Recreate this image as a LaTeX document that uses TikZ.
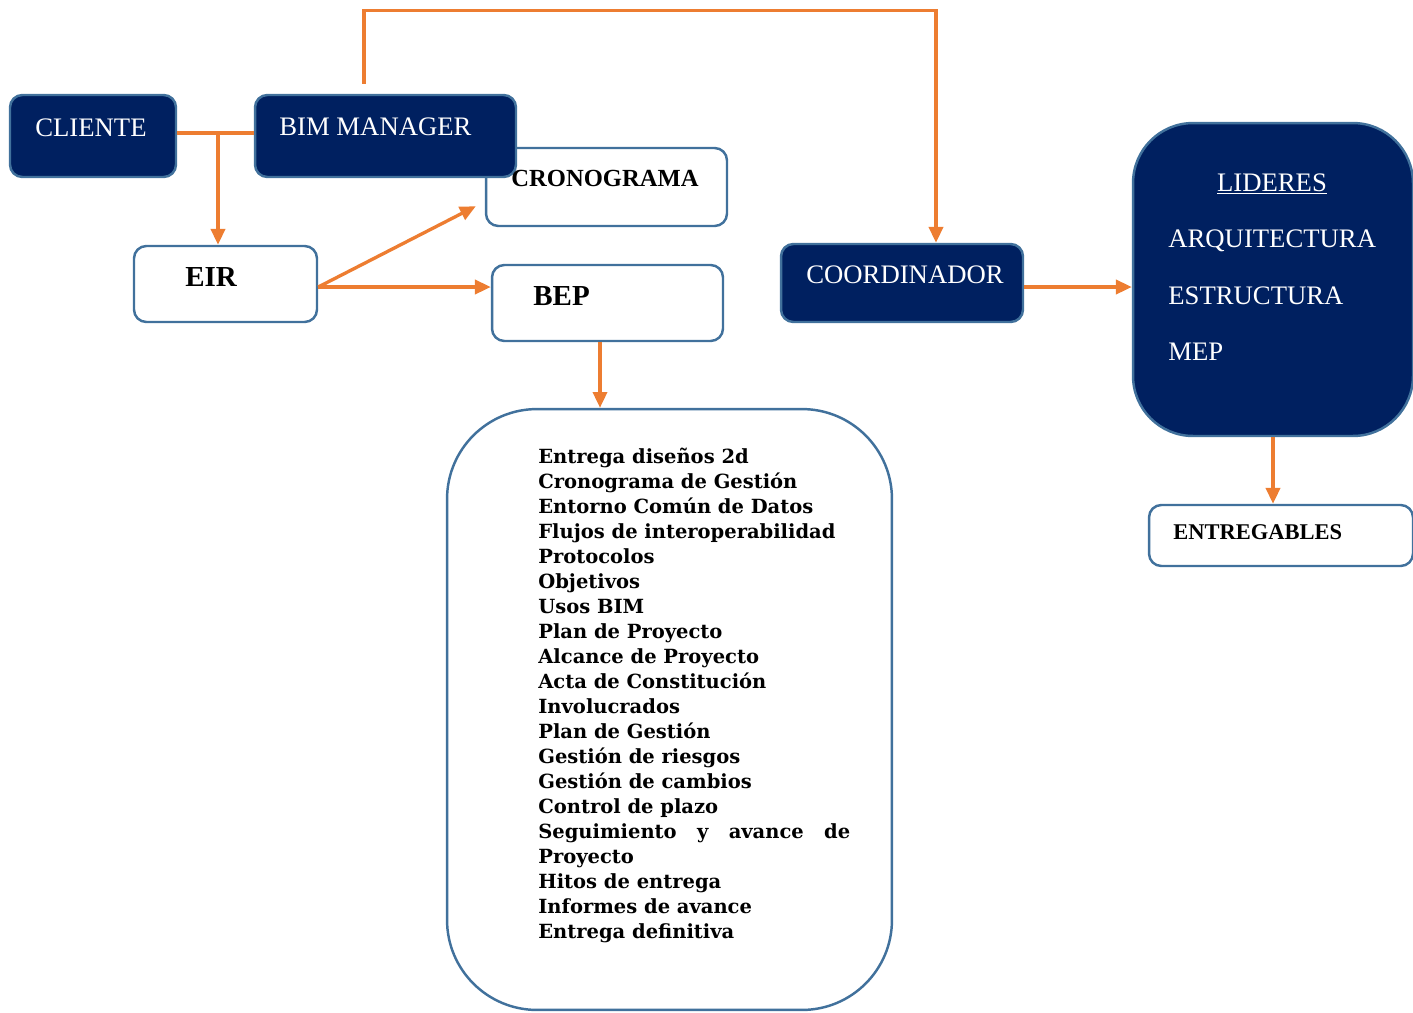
\documentclass[tikz,border=0pt]{standalone}
\usepackage{fontspec}
\setmainfont{Liberation Serif}
\newfontfamily\listfont{DejaVu Serif}
\usepackage{xcolor}
\usepackage{tikz}
\usetikzlibrary{arrows.meta,calc}
\definecolor{navy}{HTML}{002060}
\definecolor{edge}{HTML}{41719C}
\definecolor{orange}{HTML}{ED7D31}
\tikzset{
  darkbox/.style={draw=edge, fill=navy, line width=1.4pt, rounded corners=7pt},
  whitebox/.style={draw=edge, fill=white, line width=1.4pt, rounded corners=7pt},
  conn/.style={draw=orange, line width=1.9pt},
  arrow/.style={conn, -{Triangle[length=9pt,width=8pt]}},
  wlbl/.style={text=white, font=\fontsize{15.2}{18}\selectfont, anchor=base west, inner sep=0pt},
  blbl/.style={text=black, font=\fontsize{14}{16}\selectfont\bfseries, anchor=base west, inner sep=0pt},
  item/.style={text=black, font=\listfont\fontsize{11.1}{13}\selectfont\bfseries, anchor=base west, inner sep=0pt}
}
\begin{document}
\begin{tikzpicture}[x=0.02cm, y=-0.02cm]
  \useasboundingbox (0,0) rectangle (1413,1012);

  % boxes
  \node[darkbox, minimum width=3.32cm, minimum height=1.64cm] (cliente) at (93,136) {};
  \node[whitebox, minimum width=4.82cm, minimum height=1.56cm] (crono) at (606.5,187) {};
  \node[darkbox, minimum width=5.22cm, minimum height=1.64cm] (bim) at (385.5,136) {};
  \node[whitebox, minimum width=3.66cm, minimum height=1.52cm] (eir) at (225.5,284) {};
  \node[whitebox, minimum width=4.62cm, minimum height=1.52cm] (bep) at (607.5,303) {};
  \node[darkbox, minimum width=4.84cm, minimum height=1.56cm] (coord) at (902,283) {};
  \node[darkbox, rounded corners=1.2cm, minimum width=5.6cm, minimum height=6.26cm] (lideres) at (1273,279.5) {};
  \node[whitebox, minimum width=5.28cm, minimum height=1.22cm] (entreg) at (1281,535.5) {};
  \node[whitebox, rounded corners=1.8cm, minimum width=8.9cm, minimum height=12.02cm] (lista) at (669.5,709.5) {};

  % texts
  \node[wlbl] (cliente-t) at (35,136) {CLIENTE};
  \node[wlbl] (bim-t) at (279,135) {BIM MANAGER};
  \node[blbl] (crono-t) at (511,186) {CRONOGRAMA};
  \node[blbl, font=\fontsize{16.5}{18}\selectfont\bfseries] (eir-t) at (185,286) {EIR};
  \node[blbl, font=\fontsize{16.5}{18}\selectfont\bfseries] (bep-t) at (533,305) {BEP};
  \node[wlbl] (coord-t) at (806,283) {COORDINADOR};
  \node[wlbl, anchor=base] (lid-t) at (1272,191) {\underline{LIDERES}};
  \node[wlbl] (arq-t) at (1168,247) {ARQUITECTURA};
  \node[wlbl] (est-t) at (1168,304) {ESTRUCTURA};
  \node[wlbl] (mep-t) at (1168,360) {MEP};
  \node[blbl, font=\fontsize{12.8}{15}\selectfont\bfseries] (entreg-t) at (1173,539) {ENTREGABLES};

  \foreach \t [count=\i] in {Entrega diseños 2d, Cronograma de Gestión, Entorno Común de Datos,
      Flujos de interoperabilidad, Protocolos, Objetivos, Usos BIM, Plan de Proyecto,
      Alcance de Proyecto, Acta de Constitución, Involucrados, Plan de Gestión,
      Gestión de riesgos, Gestión de cambios, Control de plazo,
      {\makebox[6.24cm][s]{Seguimiento\hfill y\hfill avance\hfill de}},
      Proyecto, Hitos de entrega, Informes de avance, Entrega definitiva}
    \node[item] (l\i) at (538,{463+25.05*(\i-1)}) {\t};

  % connectors
  \draw[conn] ([yshift=0.06cm]cliente.east) -- ([yshift=0.06cm]bim.west);
  \draw[arrow] ([xshift=-0.15cm]eir.north |- cliente.east) ++(0,-3) -- ([xshift=-0.15cm]eir.north);
  \draw[arrow] ([xshift=-0.43cm,yshift=0.2cm]bim.north) -- ++(0,-73) -| ([xshift=0.68cm]coord.north);
  \draw[arrow] ([yshift=-0.06cm]eir.east) -- ([xshift=-0.18cm,yshift=0.42cm]crono.south west);
  \draw[arrow] ([yshift=-0.06cm]eir.east) -- ([yshift=-0.06cm]eir.east -| bep.west);
  \draw[arrow] ([xshift=-0.15cm]bep.south) -- ([xshift=-0.15cm]bep.south |- lista.north);
  \draw[arrow] ([yshift=-0.08cm]coord.east) -- ([yshift=-0.08cm]coord.east -| lideres.west);
  \draw[arrow] (lideres.south) -- (lideres.south |- entreg.north);
\end{tikzpicture}
\end{document}
